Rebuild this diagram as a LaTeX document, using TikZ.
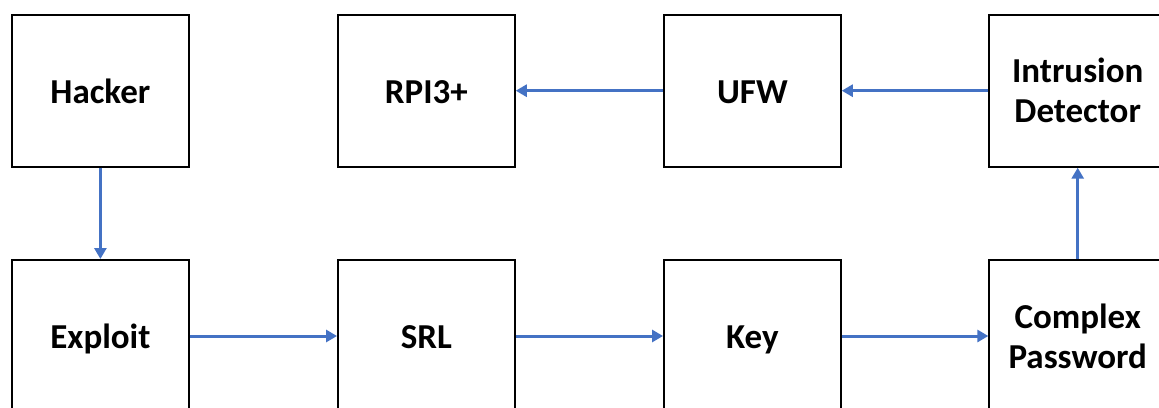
\documentclass[tikz,border=0pt]{standalone}
\usepackage{fontspec}
\setmainfont{Carlito}
\usepackage{xcolor}
\usetikzlibrary{arrows.meta}
\definecolor{flowblue}{HTML}{4472C4}

\begin{document}
\begin{tikzpicture}[x=1pt, y=-1pt,
  box/.style={draw=black, line width=2pt, fill=white, minimum width=176.7pt, minimum height=152pt,
    align=center, font=\fontsize{35}{40}\selectfont\bfseries, inner sep=0pt},
  oneline/.style={box, execute at end node=\rule[-8pt]{0pt}{41pt}},
  flow/.style={draw=flowblue, line width=3pt, -{Triangle[length=11pt,width=12pt]}}]
\useasboundingbox (0, 0) rectangle (1159, 407);

\node[oneline] (hacker) at (100.4, 90.7) {Hacker};
\node[oneline] (rpi) at (426.4, 90.7) {RPI3+};
\node[oneline] (ufw) at (752.4, 90.7) {UFW};
\node[box] (ids) at (1077.7, 90.7) {Intrusion\\Detector};

\node[oneline] (exploit) at (100.4, 336) {Exploit};
\node[oneline] (srl) at (426.4, 336) {SRL};
\node[oneline] (key) at (752.4, 336) {Key};
\node[box] (passwd) at (1077.7, 336) {Complex\\Password};

\draw[flow] (hacker) -- (exploit);
\draw[flow] (exploit) -- (srl);
\draw[flow] (srl) -- (key);
\draw[flow] (key) -- (passwd);
\draw[flow] (passwd) -- (ids);
\draw[flow] (ids) -- (ufw);
\draw[flow] (ufw) -- (rpi);
\end{tikzpicture}
\end{document}
